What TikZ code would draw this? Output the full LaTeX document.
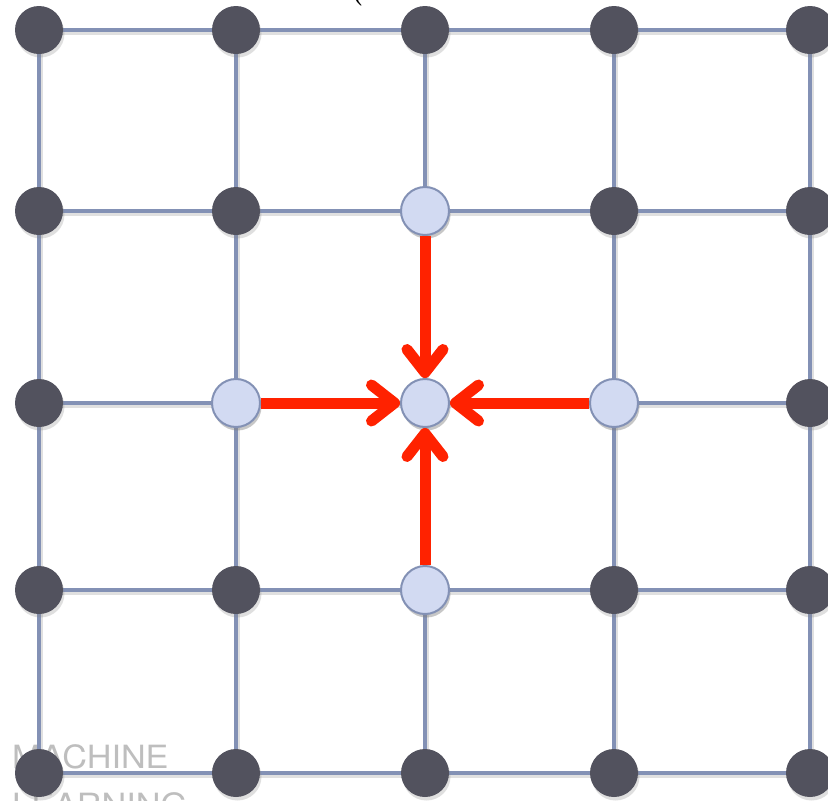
\documentclass[tikz,border=0pt]{standalone}
\usepackage{fontspec}
\setsansfont{TeX Gyre Heros}
\usetikzlibrary{arrows.meta,shadows}
\definecolor{gridline}{HTML}{8391B5}
\definecolor{darknode}{HTML}{52525E}
\definecolor{lightnode}{HTML}{D2DAF2}
\definecolor{redarrow}{HTML}{FF2200}
\definecolor{wmark}{HTML}{BEBEBE}
\tikzset{
  dot/.style={circle, minimum size=48pt, inner sep=0pt,
    drop shadow={opacity=0.25, shadow xshift=1.5pt, shadow yshift=-3.5pt}},
  darkdot/.style={dot, fill=darknode},
  lightdot/.style={dot, fill=lightnode, draw=gridline, line width=2pt},
  edge/.style={draw=gridline, line width=3.5pt},
  edgeshadow/.style={draw=black!12, line width=4.5pt},
  flow/.style={draw=redarrow, line width=11pt,
    -{Straight Barb[length=23pt,width=36pt,line cap=round,line join=round]}},
  wm/.style={font=\sffamily\fontsize{32}{38}\selectfont, text=wmark, inner sep=0pt, xscale=1.07}
}
\begin{document}
\begin{tikzpicture}[x=1pt,y=-1pt]
\path[use as bounding box] (0,0) rectangle (828,801);
\clip (0,0) rectangle (828,801);
\fill[white] (0,0) rectangle (828,801);
% watermark text
\node[wm, anchor=base west] (wm1) at (12,768) {MACHINE};
\node[wm, anchor=base west] (wm2) at (12,816) {LEARNING};
% top clipped parenthesis
\node[font=\bfseries\fontsize{30}{34}\selectfont, anchor=south, inner sep=0pt] (par) at (357,6) {(};
% grid coordinates
\def\colsx{{39,236,425,614,810}}
\def\rowsy{{30,211,403,590,773}}
\foreach \i in {0,...,4}{
  \foreach \j in {0,...,4}{
    \pgfmathsetmacro{\xx}{\colsx[\i]}
    \pgfmathsetmacro{\yy}{\rowsy[\j]}
    \coordinate (p\i\j) at (\xx,\yy);
  }
}
% grid line shadows
\foreach \j in {0,...,4}{
  \draw[edgeshadow] ([yshift=-3pt]p0\j) -- ([yshift=-3pt]p4\j);
}
\foreach \i in {0,...,4}{
  \draw[edgeshadow] ([xshift=2pt]p\i0) -- ([xshift=2pt]p\i4);
}
% grid lines
\foreach \j in {0,...,4}{
  \draw[edge] (p0\j) -- (p1\j) -- (p2\j) -- (p3\j) -- (p4\j);
}
\foreach \i in {0,...,4}{
  \draw[edge] (p\i0) -- (p\i1) -- (p\i2) -- (p\i3) -- (p\i4);
}
% nodes
\foreach \i in {0,...,4}{
  \foreach \j in {0,...,4}{
    \node[darkdot] (n\i\j) at (p\i\j) {};
  }
}
\node[lightdot] (n21) at (p21) {};
\node[lightdot] (n12) at (p12) {};
\node[lightdot] (n22) at (p22) {};
\node[lightdot] (n32) at (p32) {};
\node[lightdot] (n23) at (p23) {};
% arrows
\draw[flow] (n21.south) -- (n22.north);
\draw[flow] (n12.east) -- (n22.west);
\draw[flow] (n32.west) -- (n22.east);
\draw[flow] (n23.north) -- (n22.south);
\end{tikzpicture}
\end{document}
